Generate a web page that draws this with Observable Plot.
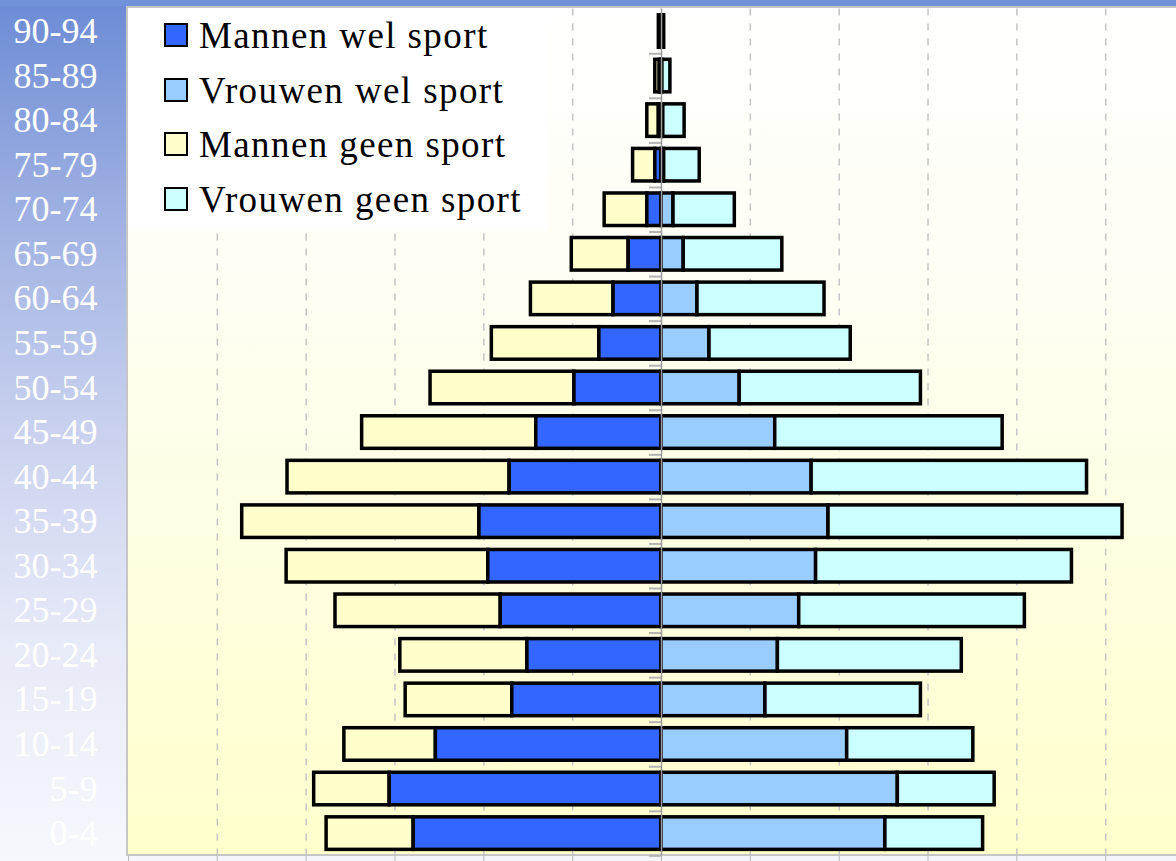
<!DOCTYPE html>
<html>
<head>
<meta charset="utf-8">
<script src="https://cdn.jsdelivr.net/npm/d3@7"></script>
<script src="https://cdn.jsdelivr.net/npm/@observablehq/plot@0.6"></script>
<style>
  html, body { margin: 0; padding: 0; }
  body { width: 1176px; height: 861px; overflow: hidden; background: #f5f6fb; }
  #wrap { position: relative; width: 1176px; height: 861px; }
  .bg-left { position: absolute; left: 0; top: 0; width: 128px; height: 861px;
    background: linear-gradient(to bottom, #6c8bd5 0%, #9fb1e2 25%, #c9d1ee 50%, #e7eaf7 75%, #f7f8fd 100%); }
  .bg-top { position: absolute; left: 0; top: 0; width: 1176px; height: 6px; background: #7191d9; }
  .bg-plot { position: absolute; left: 126px; top: 6px; width: 1048px; height: 846px;
    border: 2px solid #c6c6c6; border-right: none;
    background: linear-gradient(to bottom, #ffffff 0%, #fefef2 35%, #ffffcc 100%); }
  #chart { position: absolute; left: 0; top: 0; }
  .legend { position: absolute; left: 128px; top: 8px; width: 420px; height: 223px; background: #ffffff; }
  .legend .item { position: absolute; left: 0; height: 37px; }
  .legend .sw { position: absolute; left: 36px; width: 20px; height: 20px; border: 2.5px solid #000; }
  .legend .lab { position: absolute; left: 71px; white-space: nowrap; font-family: "Liberation Serif", "Times New Roman", serif;
    font-size: 37px; line-height: 37px; letter-spacing: 1.4px; color: #000; }
</style>
</head>
<body>
<div id="wrap">
  <div class="bg-left"></div>
  <div class="bg-top"></div>
  <div class="bg-plot"></div>
  <div id="chart"></div>
  <div class="legend" id="legend"></div>
</div>
<script>
// Age groups, top to bottom
const ages = ["90-94","85-89","80-84","75-79","70-74","65-69","60-64","55-59","50-54","45-49",
              "40-44","35-39","30-34","25-29","20-24","15-19","10-14","5-9","0-4"];
const groups = ["Mannen wel sport", "Vrouwen wel sport", "Mannen geen sport", "Vrouwen geen sport"];
const groupColors = ["#3366ff", "#99ccff", "#ffffcc", "#ccffff"];

const mannenWel   = [0.1, 0.2, 0.3, 0.7, 1.6, 3.7, 5.4, 7.0, 9.8, 14.1, 17.1, 20.5, 19.5, 18.1, 15.1, 16.8, 25.4, 30.6, 27.9];
const mannenGeen  = [0.2, 0.5, 1.3, 2.5, 4.8, 6.4, 9.3, 12.1, 16.2, 19.6, 25.0, 26.7, 22.7, 18.6, 14.3, 12.0, 10.3, 8.5, 9.8];
const vrouwenWel  = [0.1, 0.1, 0.2, 0.3, 1.35, 2.5, 4.05, 5.4, 8.8, 12.8, 16.9, 18.8, 17.4, 15.5, 13.1, 11.7, 20.9, 26.6, 25.2];
const vrouwenGeen = [0.2, 0.9, 2.4, 4.0, 6.9, 11.1, 14.3, 15.9, 20.4, 25.6, 31.0, 33.1, 28.8, 25.4, 20.7, 17.5, 14.2, 10.9, 11.0];

const gridTicks = [-50, -40, -30, -20, -10, 10, 20, 30, 40, 50];
const axisTicks = [-60, -50, -40, -30, -20, -10, 0, 10, 20, 30, 40, 50];

const segments = ages.flatMap((age, i) => {
  const mw = mannenWel[i], mg = mannenGeen[i], vw = vrouwenWel[i], vg = vrouwenGeen[i];
  return [
    {age, group: groups[2], x1: -(mw + mg), x2: -mw},
    {age, group: groups[0], x1: -mw, x2: 0},
    {age, group: groups[1], x1: 0, x2: vw},
    {age, group: groups[3], x1: vw, x2: vw + vg}
  ];
});

const W = 1176, H = 861;
const marginTop = 8.5, marginBottom = 5.4;
const pIn = 0.27, pOut = 0.14;
const step = (H - marginTop - marginBottom) / (ages.length - pIn + 2 * pOut);

const chart = Plot.plot({
  width: W,
  height: H,
  marginLeft: 128,
  marginRight: 0,
  marginTop,
  marginBottom,
  style: {background: "transparent", color: "#b8b8b8", overflow: "visible"},
  x: {domain: [-60, 57.97], ticks: axisTicks, tickSize: 5.5, tickFormat: () => "", label: null, axis: "bottom"},
  y: {domain: ages, paddingInner: pIn, paddingOuter: pOut, round: false, axis: null},
  color: {domain: groups, range: groupColors},
  marks: [
    Plot.ruleX(gridTicks, {x: d => d, stroke: "#c4c4c4", strokeWidth: 1.5, strokeDasharray: "7,8"}),
    Plot.barX(segments, {y: "age", x1: "x1", x2: "x2", fill: "group", stroke: "#000", strokeWidth: 3.5}),
    Plot.ruleY(ages, {y: d => d, x1: -1.35, x2: 0, dy: step / 2, stroke: "#b4b4b4", strokeWidth: 2}),
    Plot.ruleX([0], {stroke: "#9a9a9a", strokeWidth: 1.5}),
    Plot.text(ages, {y: d => d, text: d => d, frameAnchor: "left", dx: -31, textAnchor: "end",
      fill: "#ffffff", fontSize: 36, fontFamily: "Liberation Serif"})
  ]
});
document.getElementById("chart").appendChild(chart);

// Legend (overlaid box, top-left of plot area)
const legend = document.getElementById("legend");
const baselines = [40, 94.7, 149.4, 204];
groups.forEach((g, i) => {
  const item = document.createElement("div");
  item.className = "item";
  const sw = document.createElement("div");
  sw.className = "sw";
  sw.style.background = groupColors[i];
  sw.style.top = (baselines[i] - 25) + "px";
  const lab = document.createElement("div");
  lab.className = "lab";
  lab.textContent = g;
  lab.style.top = (baselines[i] - 31) + "px";
  item.appendChild(sw);
  item.appendChild(lab);
  legend.appendChild(item);
});
</script>
</body>
</html>
